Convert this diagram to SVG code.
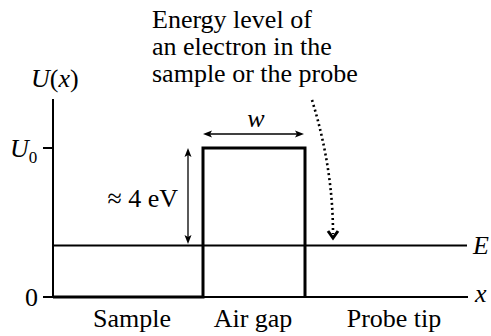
<svg xmlns="http://www.w3.org/2000/svg" width="491" height="336" viewBox="0 0 491 336">
  <rect width="491" height="336" fill="#fff"/>
  <g id="note">
    <text x="152" y="28" style="font-family:'Liberation Serif',Tinos,'Times New Roman',serif;font-size:26px">Energy level of</text>
    <text x="152" y="55" style="font-family:'Liberation Serif',Tinos,'Times New Roman',serif;font-size:26px">an electron in the</text>
    <text x="152" y="82" style="font-family:'Liberation Serif',Tinos,'Times New Roman',serif;font-size:26px">sample or the probe</text>
  </g>
  <g id="axis-labels">
    <text x="31" y="87" style="font-family:'Liberation Serif',Tinos,'Times New Roman',serif;font-size:26px"><tspan style="font-style:italic">U</tspan>(<tspan style="font-style:italic">x</tspan>)</text>
    <text x="10" y="157" style="font-family:'Liberation Serif',Tinos,'Times New Roman',serif;font-size:26px"><tspan style="font-style:italic">U</tspan><tspan style="font-size:17px" dy="6">0</tspan></text>
    <text x="473" y="254" style="font-family:'Liberation Serif',Tinos,'Times New Roman',serif;font-size:26px;font-style:italic">E</text>
    <text x="25" y="306" style="font-family:'Liberation Serif',Tinos,'Times New Roman',serif;font-size:26px">0</text>
    <text x="475" y="302" style="font-family:'Liberation Serif',Tinos,'Times New Roman',serif;font-size:26px;font-style:italic">x</text>
  </g>
  <g id="region-labels">
    <text x="256" y="127" text-anchor="middle" style="font-family:'Liberation Serif',Tinos,'Times New Roman',serif;font-size:26px;font-style:italic">w</text>
    <text x="178" y="207" text-anchor="end" style="font-family:'Liberation Serif',Tinos,'Times New Roman',serif;font-size:26px">≈ 4 eV</text>
    <text x="132" y="327" text-anchor="middle" style="font-family:'Liberation Serif',Tinos,'Times New Roman',serif;font-size:26px">Sample</text>
    <text x="253" y="327" text-anchor="middle" style="font-family:'Liberation Serif',Tinos,'Times New Roman',serif;font-size:26px">Air gap</text>
    <text x="394" y="327" text-anchor="middle" style="font-family:'Liberation Serif',Tinos,'Times New Roman',serif;font-size:26px">Probe tip</text>
  </g>

  <g id="axes" stroke="#000" fill="none">
    <line x1="53" y1="99" x2="53" y2="298" stroke-width="2"/>
    <line x1="43" y1="297" x2="468" y2="297" stroke-width="1.8"/>
    <line x1="43" y1="148" x2="53" y2="148" stroke-width="2"/>
  </g>
  <g id="potential">
    <path d="M53,297 H203 V148 H305 V297" stroke="#000" fill="none" stroke-width="3"/>
  </g>
  <g id="energy">
    <line x1="53" y1="245.5" x2="467" y2="245.5" stroke="#000" stroke-width="1.8"/>
  </g>
  <g id="connectors">
    <line x1="210" y1="134" x2="297" y2="134" stroke="#000" stroke-width="1.3"/>
    <path d="M203,134 L212,130.5 L210,134 L212,137.5 Z M304,134 L295,130.5 L297,134 L295,137.5 Z" fill="#000"/>
    <line x1="188" y1="155" x2="188" y2="237" stroke="#000" stroke-width="1.3"/>
    <path d="M188,148 L184.5,157 L188,155 L191.5,157 Z M188,244 L184.5,235 L188,237 L191.5,235 Z" fill="#000"/>
    <path d="M312,100 Q333,168 333,234" stroke="#000" fill="none" stroke-width="2.6" stroke-dasharray="2 3"/>
    <polyline points="328,231 333,238 338,231" stroke="#000" fill="none" stroke-width="3"/>
  </g>
</svg>
